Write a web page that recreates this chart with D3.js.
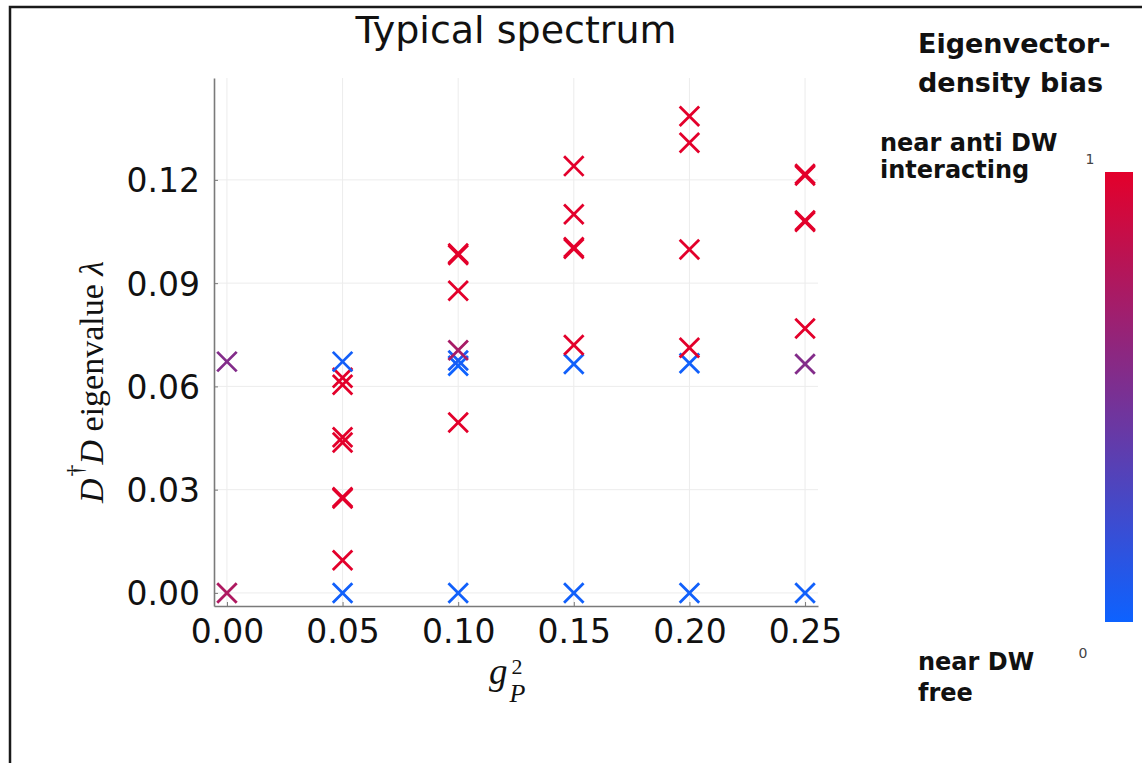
<!DOCTYPE html>
<html>
<head>
<meta charset="utf-8">
<script src="https://cdn.jsdelivr.net/npm/d3@7"></script>
<style>
  html, body { margin: 0; padding: 0; background: #fff; }
  svg { display: block; }
</style>
</head>
<body>
<div id="chart"></div>
<script>
// g_P^2 of each eigenvalue, the eigenvalue itself, and its density bias (0 = near DW free, 1 = near anti DW interacting)
const gP2 = [
    0.00, 0.00,
    0.05, 0.05, 0.05, 0.05, 0.05, 0.05, 0.05, 0.05, 0.05,
    0.10, 0.10, 0.10, 0.10, 0.10, 0.10, 0.10, 0.10,
    0.15, 0.15, 0.15, 0.15, 0.15, 0.15, 0.15,
    0.20, 0.20, 0.20, 0.20, 0.20, 0.20,
    0.25, 0.25, 0.25, 0.25, 0.25, 0.25, 0.25
];
const lambda = [
    0.0000, 0.0672,
    0.0000, 0.0095, 0.0274, 0.0278, 0.0437, 0.0452, 0.0605, 0.0625, 0.0672,
    0.0000, 0.0495, 0.0660, 0.0675, 0.0705, 0.0878, 0.0982, 0.0986,
    0.0000, 0.0665, 0.0720, 0.1000, 0.1004, 0.1100, 0.1240,
    0.0000, 0.0667, 0.0712, 0.0998, 0.1308, 0.1385,
    0.0000, 0.0665, 0.0768, 0.1078, 0.1082, 0.1213, 0.1217
];
const bias = [
    0.75, 0.55,
    0.02, 1.00, 1.00, 1.00, 1.00, 1.00, 1.00, 1.00, 0.03,
    0.02, 1.00, 0.00, 0.05, 0.72, 1.00, 1.00, 1.00,
    0.02, 0.02, 1.00, 1.00, 1.00, 1.00, 1.00,
    0.02, 0.02, 1.00, 1.00, 1.00, 1.00,
    0.02, 0.55, 1.00, 1.00, 1.00, 1.00, 1.00
];
const xTicks = [0, 0.05, 0.10, 0.15, 0.20, 0.25];
const yTicks = [0, 0.03, 0.06, 0.09, 0.12];
const biasTicks = [0, 1];

const W = 1142, H = 763;
const svg = d3.select('#chart').append('svg')
    .attr('width', W)
    .attr('height', H);

// frame lines of the original screenshot
svg.append('path')
    .attr('d', `M10,${H} L10,7 L${W},7`)
    .attr('fill', 'none')
    .attr('stroke', '#1a1a1a')
    .attr('stroke-width', 2.5);

const x = d3.scaleLinear().domain([-0.0056, 0.2556]).range([214, 818]);
const y = d3.scaleLinear().domain([-0.0038, 0.1496]).range([606, 78]);
const color = d3.scaleLinear().domain([0, 1])
    .range(['#0d62ff', '#e3002b'])
    .interpolate(d3.interpolateRgb);

// grid
svg.append('g')
    .selectAll('line')
    .data(xTicks)
    .enter().append('line')
    .attr('x1', d => x(d)).attr('x2', d => x(d))
    .attr('y1', y.range()[1]).attr('y2', y.range()[0])
    .attr('stroke', '#ececec').attr('stroke-width', 1);

svg.append('g')
    .selectAll('line')
    .data(yTicks)
    .enter().append('line')
    .attr('x1', x.range()[0]).attr('x2', x.range()[1])
    .attr('y1', d => y(d)).attr('y2', d => y(d))
    .attr('stroke', '#ececec').attr('stroke-width', 1);

// axes
const xAxis = svg.append('g')
    .attr('transform', `translate(0,${y.range()[0]})`)
    .call(d3.axisBottom(x).tickValues(xTicks).tickFormat(d3.format('.2f')).tickSizeInner(-4).tickSizeOuter(0).tickPadding(14));

const yAxis = svg.append('g')
    .attr('transform', `translate(${x.range()[0]},0)`)
    .call(d3.axisLeft(y).tickValues(yTicks).tickFormat(d3.format('.2f')).tickSizeInner(-4).tickSizeOuter(0).tickPadding(14));

[xAxis, yAxis].forEach(a => {
    a.select('.domain').attr('stroke', '#7a7a7a').attr('stroke-width', 1.6);
    a.selectAll('.tick line').attr('stroke', '#7a7a7a');
    a.selectAll('.tick text')
        .style('font-family', 'DejaVu Sans')
        .style('font-size', '33px')
        .attr('fill', '#111');
});
xAxis.selectAll('.tick text').attr('dy', '0.71em');
yAxis.selectAll('.tick text').attr('dy', '0.36em');

// title
svg.append('text')
    .attr('x', (x.range()[0] + x.range()[1]) / 2)
    .attr('y', 43)
    .attr('text-anchor', 'middle')
    .style('font-family', 'DejaVu Sans')
    .style('font-size', '38px')
    .attr('fill', '#111')
    .text('Typical spectrum');

// x label  g_P^2
const xl = svg.append('text')
    .attr('x', 489)
    .attr('y', 684)
    .style('font-family', 'Liberation Serif')
    .style('font-size', '37px')
    .attr('fill', '#111');
xl.append('tspan').style('font-style', 'italic').text('g');
xl.append('tspan').attr('dx', 4).attr('dy', -10).style('font-size', '22px').text('2');
xl.append('tspan').attr('dx', -13).attr('dy', 28).style('font-size', '26px').style('font-style', 'italic').text('P');

// y label  D†D eigenvalue λ
const yl = svg.append('text')
    .attr('transform', 'translate(103,382) rotate(-90)')
    .attr('text-anchor', 'middle')
    .style('font-family', 'Liberation Serif')
    .style('font-size', '34px')
    .attr('fill', '#111');
yl.append('tspan').style('font-style', 'italic').text('D');
yl.append('tspan').attr('dx', 2).attr('dy', -20).style('font-size', '24px').text('\u2020');
yl.append('tspan').attr('dy', 20).style('font-style', 'italic').text('D');
yl.append('tspan').text(' eigenvalue ');
yl.append('tspan').style('font-style', 'italic').text('\u03bb');

// points
const points = gP2.map((g, i) => ({ g: g, v: lambda[i], b: bias[i] }));
const cross = d3.symbol().type(d3.symbolX).size(250);

svg.append('g')
    .selectAll('path')
    .data(points)
    .enter().append('path')
    .attr('transform', d => `translate(${x(d.g)},${y(d.v)})`)
    .attr('d', cross)
    .attr('fill', 'none')
    .attr('stroke', d => color(d.b))
    .attr('stroke-width', 2.8);

// colorbar
const cb = d3.scaleLinear().domain([0, 1]).range([622, 172]);
const defs = svg.append('defs');
const grad = defs.append('linearGradient')
    .attr('id', 'biasGrad')
    .attr('x1', 0).attr('y1', 1).attr('x2', 0).attr('y2', 0);
grad.selectAll('stop')
    .data(d3.range(0, 1.0001, 0.1))
    .enter().append('stop')
    .attr('offset', d => d)
    .attr('stop-color', d => color(d));

svg.append('rect')
    .attr('x', 1105)
    .attr('y', cb(1))
    .attr('width', 28)
    .attr('height', cb(0) - cb(1))
    .attr('fill', 'url(#biasGrad)');

svg.append('g')
    .selectAll('text')
    .data(biasTicks)
    .enter().append('text')
    .attr('x', d => d === 1 ? 1090 : 1083)
    .attr('y', d => d === 1 ? cb(d) - 8 : cb(d) + 36)
    .attr('text-anchor', 'middle')
    .style('font-family', 'DejaVu Sans')
    .style('font-size', '14px')
    .attr('fill', '#444')
    .text(d => d);

const legendText = [
    { t: 'Eigenvector-', x: 918, y: 53, s: 27 },
    { t: 'density bias', x: 918, y: 92, s: 27 },
    { t: 'near anti DW', x: 880, y: 151, s: 24 },
    { t: 'interacting', x: 880, y: 178, s: 24 },
    { t: 'near DW', x: 918, y: 670, s: 24 },
    { t: 'free', x: 918, y: 701, s: 24 }
];
svg.append('g')
    .selectAll('text')
    .data(legendText)
    .enter().append('text')
    .attr('x', d => d.x)
    .attr('y', d => d.y)
    .style('font-family', 'DejaVu Sans')
    .style('font-weight', 700)
    .style('font-size', d => d.s + 'px')
    .attr('fill', '#111')
    .text(d => d.t);
</script>
</body>
</html>
